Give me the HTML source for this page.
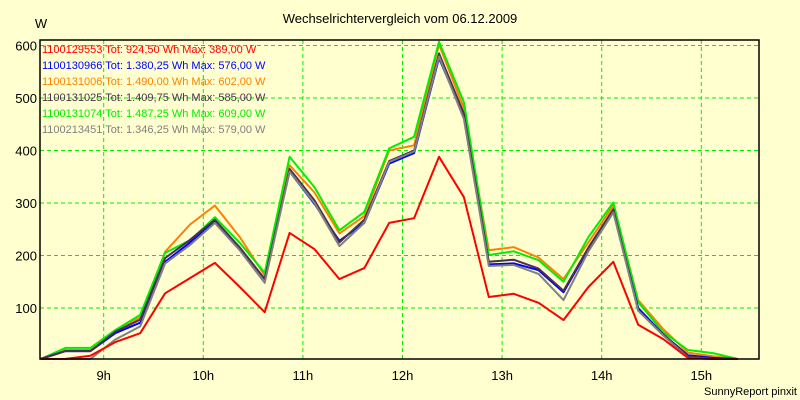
<!DOCTYPE html>
<html><head><meta charset="utf-8"><style>
html,body{margin:0;padding:0;background:#ffffd0;}
svg{display:block;font-family:"Liberation Sans",sans-serif;}
</style></head><body>
<svg id="chart" width="800" height="400" viewBox="0 0 800 400">
<rect x="0" y="0" width="800" height="400" fill="#ffffd0"/>
<text x="400" y="23" text-anchor="middle" font-size="13" fill="#000">Wechselrichtervergleich vom 06.12.2009</text>
<text x="41" y="28" text-anchor="middle" font-size="13" fill="#000">W</text>
<text x="797" y="395" text-anchor="end" font-size="11" fill="#000">SunnyReport pinxit</text>
<g id="grid"></g>
<g id="series"></g>
<rect x="40" y="40" width="719" height="319" fill="none" stroke="#000" stroke-width="1.5"/>
<g id="axes"></g>
<g id="legend"></g>
</svg>
<script>
const yTicks=[100,200,300,400,500,600];
const xTickHours=[9,10,11,12,13,14,15];
const startMinute=8*60+22;
const stepMinutes=15;
const seriesNames=["1100129553","1100130966","1100131006","1100131025","1100131074","1100213451"];
const seriesLabels=["Tot: 924,50 Wh Max: 389,00 W","Tot: 1.380,25 Wh Max: 576,00 W","Tot: 1.490,00 Wh Max: 602,00 W","Tot: 1.409,75 Wh Max: 585,00 W","Tot: 1.487,25 Wh Max: 609,00 W","Tot: 1.346,25 Wh Max: 579,00 W"];
const seriesColors=["#ff0000","#0000ff","#ff8000","#4b3050","#00ee00","#808080"];
const red=[0,3,9,35,52,128,157,186,140,92,243,212,155,176,262,271,388,311,121,127,110,77,140,188,68,41,5,0,0];
const blue=[0,18,18,52,72,188,225,265,215,155,360,298,228,262,375,395,576,465,183,185,172,130,213,285,100,50,10,5,0];
const orange=[0,20,20,56,82,207,259,295,235,162,372,320,242,275,400,410,602,480,210,216,196,155,225,295,115,60,15,8,0];
const dark=[0,18,18,55,78,195,230,268,215,155,365,305,225,268,380,400,585,470,188,192,175,133,215,288,95,50,8,2,0];
const green=[0,24,24,58,87,205,229,273,224,167,388,330,248,283,404,426,607,492,201,208,191,150,235,301,111,54,20,14,0];
const gray=[0,0,0,40,65,185,220,262,210,148,360,300,218,262,378,398,579,460,180,182,165,115,208,282,95,48,5,0,0];
const allSeries=[red,blue,orange,dark,green,gray];
const drawOrder=[2,4,1,3,5,0];

const NS="http://www.w3.org/2000/svg";
function yScale(v){return 360.5-v*0.525;}
function xScale(min){return 203.3+(min-600)*99.6/60;}
const grid=document.getElementById('grid');
const axes=document.getElementById('axes');
yTicks.forEach(v=>{
  const l=document.createElementNS(NS,'line');
  l.setAttribute('x1',40);l.setAttribute('x2',759);
  l.setAttribute('y1',yScale(v));l.setAttribute('y2',yScale(v));
  l.setAttribute('stroke','#00ee00');l.setAttribute('stroke-dasharray','4,3');
  
  
  grid.appendChild(l);
  const t=document.createElementNS(NS,'text');
  t.setAttribute('x',37);t.setAttribute('y',yScale(v)+5);
  t.setAttribute('text-anchor','end');t.setAttribute('font-size','13');
  t.textContent=v;
  
  
  axes.appendChild(t);
});
xTickHours.forEach(h=>{
  const x=xScale(h*60);
  const l=document.createElementNS(NS,'line');
  l.setAttribute('x1',x);l.setAttribute('x2',x);
  l.setAttribute('y1',40);l.setAttribute('y2',359);
  l.setAttribute('stroke','#00ee00');l.setAttribute('stroke-dasharray','4,3');
  
  
  grid.appendChild(l);
  const t=document.createElementNS(NS,'text');
  t.setAttribute('x',x);t.setAttribute('y',380);
  t.setAttribute('text-anchor','middle');t.setAttribute('font-size','13');
  t.textContent=h+'h';
  
  
  axes.appendChild(t);
});
const sg=document.getElementById('series');
drawOrder.forEach(i=>{
  const pts=allSeries[i].map((v,k)=>xScale(startMinute+k*stepMinutes).toFixed(1)+','+Math.min(359,yScale(v)).toFixed(1)).join(' ');
  const p=document.createElementNS(NS,'polyline');
  p.setAttribute('points',pts);p.setAttribute('fill','none');
  p.setAttribute('stroke',seriesColors[i]);p.setAttribute('stroke-width','2');
  p.setAttribute('stroke-linejoin','round');
  
  
  sg.appendChild(p);
});
const lg=document.getElementById('legend');
seriesNames.forEach((n,i)=>{
  const t=document.createElementNS(NS,'text');
  t.setAttribute('x',42);t.setAttribute('y',53+i*16);
  t.setAttribute('font-size','11');t.setAttribute('fill',seriesColors[i]);
  t.textContent=n+' '+seriesLabels[i];
  
  
  lg.appendChild(t);
});
</script>
</body></html>
